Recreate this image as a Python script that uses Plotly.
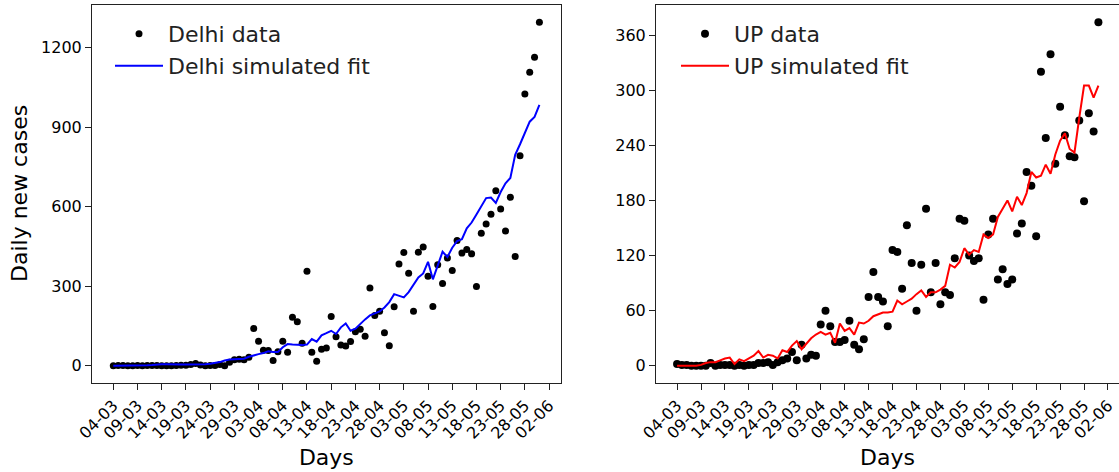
import plotly.graph_objects as go

# ---------------- data ----------------
tick_labels = ["04-03", "09-03", "14-03", "19-03", "24-03", "29-03", "03-04", "08-04",
               "13-04", "18-04", "23-04", "28-04", "03-05", "08-05", "13-05", "18-05",
               "23-05", "28-05", "02-06"]
tick_positions = [0, 5, 10, 15, 20, 25, 30, 35, 40, 45, 50, 55, 60, 65, 70, 75, 80, 85, 90]

delhi_data = [0, 1, 1, 0, 0, 1, 0, 1, 1, 1, 0, 0, 0, 1, 2, 2, 5, 9, 3, 0,
              1, 1, 5, 0, 13, 23, 25, 23, 32, 141, 93, 59, 58, 20, 53, 93, 51, 183, 166, 85,
              356, 51, 17, 62, 67, 186, 110, 78, 75, 92, 128, 138, 111, 293, 190, 206, 125, 76, 223, 384,
              427, 349, 206, 428, 448, 338, 224, 381, 310, 406, 359, 472, 425, 438, 422, 299, 500, 534, 571, 660,
              591, 508, 635, 412, 792, 1024, 1106, 1163, 1295]

delhi_fit = [0, 0, 0, 0, 1, 1, 2, 2, 3, 5, 6, 6, 5, 5, 5, 5, 5, 6, 6, 6,
             8, 10, 14, 20, 24, 25, 25, 27, 34, 40, 44, 48, 55, 52, 52, 70, 82, 80, 78, 78,
             80, 101, 91, 115, 123, 132, 120, 145, 160, 132, 140, 158, 175, 190, 197, 205, 220, 240, 270, 264,
             258, 278, 305, 333, 348, 392, 326, 378, 430, 410, 445, 470, 477, 518, 540, 570, 603, 632, 634, 614,
             655, 688, 708, 795, 835, 878, 920, 938, 983]

up_data = [2, 1, 1, 0, 0, 0, 0, 3, 0, 1, 1, 1, 0, 1, 0, 1, 1, 3, 3, 4,
           1, 4, 6, 8, 15, 6, 23, 8, 12, 11, 45, 60, 43, 26, 26, 28, 49, 23, 18, 29,
           75, 102, 75, 70, 43, 126, 124, 84, 153, 112, 60, 110, 171, 80, 112, 67, 80, 77, 117, 160,
           158, 120, 114, 117, 72, 143, 160, 94, 105, 89, 94, 144, 155, 211, 196, 141, 320, 248, 339, 220,
           282, 251, 228, 227, 267, 179, 275, 255, 374]

up_fit = [0, 0, 0, 0, 0, 1, 3, 4, 4, 6, 8, 9, 2, 7, 5, 8, 11, 16, 9, 12,
          11, 8, 17, 15, 22, 27, 18, 24, 30, 34, 37, 34, 36, 25, 46, 38, 41, 34, 47, 46,
          49, 54, 56, 58, 58, 59, 71, 67, 70, 73, 78, 82, 75, 80, 80, 83, 87, 110, 107, 113,
          128, 121, 126, 124, 143, 139, 143, 162, 171, 180, 168, 184, 175, 188, 211, 205, 207, 219, 209, 230,
          245, 253, 236, 232, 270, 305, 305, 292, 305]

days = list(range(len(delhi_data)))

# ---------------- figure ----------------
W, H = 1119, 472
FONT = "DejaVu Sans"

fig = go.Figure()

fig.add_trace(go.Scatter(x=days, y=delhi_data, mode="markers", name="Delhi data",
                         marker=dict(color="black", size=7), legend="legend",
                         xaxis="x", yaxis="y"))
fig.add_trace(go.Scatter(x=days, y=delhi_fit, mode="lines", name="Delhi simulated fit",
                         line=dict(color="#0000ff", width=2), legend="legend2",
                         xaxis="x", yaxis="y"))
fig.add_trace(go.Scatter(x=days, y=up_data, mode="markers", name="UP data",
                         marker=dict(color="black", size=8), legend="legend3",
                         xaxis="x2", yaxis="y2"))
fig.add_trace(go.Scatter(x=days, y=up_fit, mode="lines", name="UP simulated fit",
                         line=dict(color="#ff0000", width=2), legend="legend4",
                         xaxis="x2", yaxis="y2"))

ml, mr, mt, mb = 92, 0, 5, 89
pw = W - ml - mr
ph = H - mt - mb


def dom(a, b):
    return [(a - ml) / pw, (b - ml) / pw]


axis_common = dict(showline=True, linecolor="#222222", linewidth=1, ticks="outside",
                   ticklen=6, tickwidth=1, tickcolor="#222222", showgrid=False,
                   zeroline=False, tickfont=dict(family=FONT, size=16, color="black"))

xcommon = dict(axis_common, tickmode="array", tickvals=tick_positions, ticktext=tick_labels,
               tickangle=-45, ticklabeloverflow="allow",
               title=dict(text="Days", font=dict(family=FONT, size=22, color="black"), standoff=8))

fig.update_layout(
    width=W, height=H,
    margin=dict(l=ml, r=mr, t=mt, b=mb, autoexpand=False),
    paper_bgcolor="white", plot_bgcolor="white",
    font=dict(family=FONT, color="black"),
    xaxis=dict(xcommon, domain=dom(92, 560.7), range=[-4.4, 92.4], mirror=True, anchor="y"),
    yaxis=dict(axis_common, range=[-64.75, 1359.75], tickmode="array",
               tickvals=[0, 300, 600, 900, 1200], mirror=True, anchor="x"),
    xaxis2=dict(xcommon, domain=dom(656, 1119), range=[-4.4, 92.3], mirror=True, anchor="y2"),
    yaxis2=dict(axis_common, range=[-18.7, 392.7], tickmode="array",
                tickvals=[0, 60, 120, 180, 240, 300, 360], mirror=False, anchor="x2"),
    showlegend=True,
)

# y-axis title of the left panel
fig.add_annotation(text="Daily new cases", textangle=-90, showarrow=False,
                   xref="paper", yref="paper", x=(19 - ml) / pw, y=(H - mb - 194) / ph,
                   xanchor="center", yanchor="middle",
                   font=dict(family=FONT, size=22, color="black"))

leg_common = dict(xref="container", yref="container", xanchor="left", yanchor="middle",
                  bgcolor="rgba(0,0,0,0)", borderwidth=0, itemwidth=48,
                  font=dict(family=FONT, size=22, color="#222222"))
fig.update_layout(
    legend=dict(leg_common, x=110 / W, y=1 - 34 / H),
    legend2=dict(leg_common, x=110 / W, y=1 - 66 / H),
    legend3=dict(leg_common, x=676 / W, y=1 - 34 / H),
    legend4=dict(leg_common, x=676 / W, y=1 - 66 / H),
)

fig.write_html("out.html")
